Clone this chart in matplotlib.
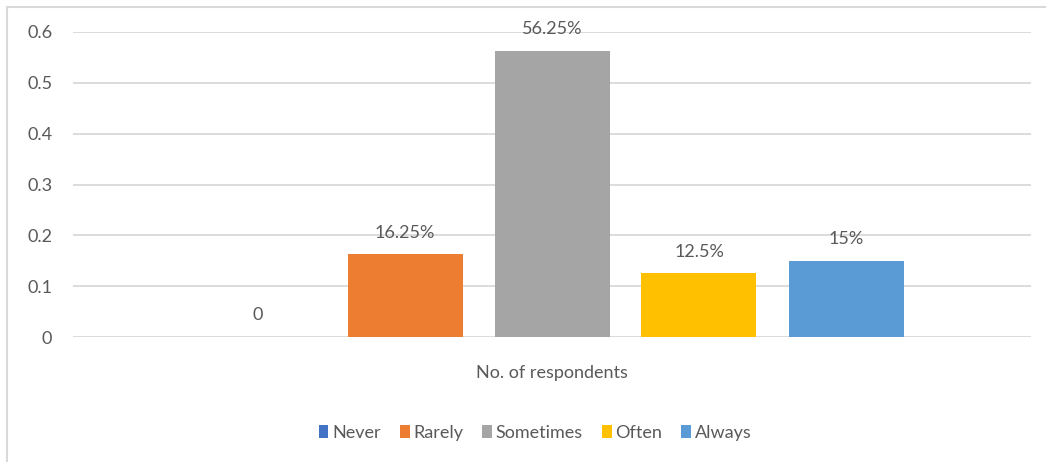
import matplotlib.pyplot as plt
from matplotlib.patches import Rectangle

# 数据
categories = ['Never', 'Rarely', 'Sometimes', 'Often', 'Always']
shares = [0, 0.1625, 0.5625, 0.125, 0.15]
colors = ['#4472c4', '#ed7d31', '#a5a5a5', '#ffc000', '#5b9bd5']
group_label = 'No. of respondents'
yticks = [0, 0.1, 0.2, 0.3, 0.4, 0.5, 0.6]

plt.rcParams['font.family'] = ['Lato', 'DejaVu Sans']
text_color = '#595959'
grid_color = '#d9d9d9'

fig = plt.figure(figsize=(10.46, 4.62), dpi=100)
ax = fig.add_axes([73 / 1046, 1 - 337 / 462, 958 / 1046, 305 / 462])

# 单个分组内的五根柱子
step = 147 / 958
width = 115 / 958
for i, (cat, v, c) in enumerate(zip(categories, shares, colors)):
    x = 0.5 + (i - 2) * step
    ax.bar(x, v, width=width, color=c, label=cat, zorder=3)
    txt = '0' if v == 0 else f'{v * 100:g}%'
    ax.annotate(txt, (x, v), xytext=(0, 10), textcoords='offset points',
                ha='center', va='bottom', fontsize=13, color=text_color)

ax.set_xlim(0, 1)
ax.set_ylim(0, 0.6)
ax.set_yticks(yticks)
ax.set_yticklabels([f'{t:g}' for t in yticks])
ax.set_xticks([0.5])
ax.set_xticklabels([group_label])
ax.tick_params(axis='y', length=0, pad=15, labelsize=13, colors=text_color)
ax.tick_params(axis='x', length=0, pad=20, labelsize=13, colors=text_color)
ax.grid(axis='y', color=grid_color, linewidth=1.3, zorder=0)
for s in ax.spines.values():
    s.set_visible(False)

leg = fig.legend(loc='center', bbox_to_anchor=(535 / 1046, 1 - 433 / 462), ncol=5,
                 frameon=False, fontsize=13, handlelength=0.55, handleheight=0.7,
                 handletextpad=0.2, columnspacing=1.05, labelcolor=text_color)

# 外框
fig.patches.append(Rectangle((7 / 1046, -0.01), 1.02, 1 - 7 / 462 + 0.01,
                             transform=fig.transFigure, fill=False,
                             edgecolor=grid_color, linewidth=1.5))

fig.savefig('out.png', dpi=100)
